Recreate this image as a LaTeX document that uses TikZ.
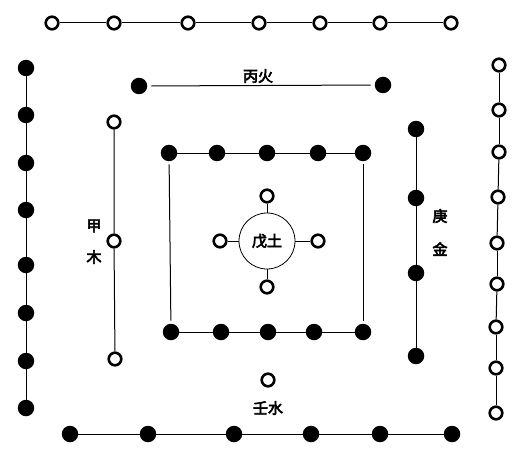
\documentclass[tikz,border=0pt]{standalone}
\usepackage{fontspec}
\newfontfamily\cjk[FakeBold=4]{Noto Sans CJK SC}
\tikzset{
  odot/.style={circle,draw,line width=2.6pt,minimum size=12.6pt,inner sep=0pt,fill=white},
  bdot/.style={circle,fill,minimum size=16.5pt,inner sep=0pt},
  lab/.style={font=\cjk\fontsize{15pt}{15pt}\selectfont,inner sep=1pt},
  ln/.style={line width=1pt}
}
\begin{document}
\begin{tikzpicture}[x=1pt,y=-1pt]
\useasboundingbox (0,0) rectangle (529,473);
% top row: 7 open
\foreach \x [count=\i] in {52,114,188,259,320,380,451} \node[odot] (t\i) at (\x,23) {};
\foreach \i/\j in {1/2,2/3,3/4,4/5,5/6,6/7} \draw[ln] (t\i)--(t\j);
% fire: 2 black
\node[bdot] (f1) at (139,86) {};
\node[bdot] (f2) at (383,85) {};
\draw[ln,shorten <=4pt,shorten >=4pt] (f1)--(f2);
\node[lab] (fl) at (258,76) {丙火};
% left: 8 black
\foreach \y [count=\i] in {68,115,163,210,265,313,361,408} \node[bdot] (l\i) at (26,\y) {};
\foreach \i/\j in {1/2,2/3,3/4,4/5,5/6,6/7,7/8} \draw[ln] (l\i)--(l\j);
% right: 9 open
\foreach \y/\x [count=\i] in {65/499,110/499,152/499,197/498,243/497,284/497,327/496,368/496,413/496} \node[odot] (r\i) at (\x,\y) {};
\foreach \i/\j in {1/2,2/3,3/4,4/5,5/6,6/7,7/8,8/9} \draw[ln] (r\i)--(r\j);
% bottom: 6 black
\foreach \x [count=\i] in {70,148,234,311,380,452} \node[bdot] (b\i) at (\x,434) {};
\foreach \i/\j in {1/2,2/3,3/4,4/5,5/6} \draw[ln] (b\i)--(b\j);
% wood: 3 open
\node[odot] (w1) at (114,122) {};
\node[odot] (w2) at (114,241) {};
\node[odot] (w3) at (115,359) {};
\draw[ln] (w1)--(w2)--(w3);
\node[lab] (wa) at (94,226) {甲};
\node[lab] (wb) at (94,257) {木};
% metal: 4 black
\node[bdot] (m1) at (416,129) {};
\node[bdot] (m2) at (416,198) {};
\node[bdot] (m3) at (416,273) {};
\node[bdot] (m4) at (416,356) {};
\draw[ln] (m1)--(m2)--(m3)--(m4);
\node[lab] (ma) at (440,216) {庚};
\node[lab] (mb) at (440,249) {金};
% inner square: 10 black
\foreach \x [count=\i] in {169,217,267,318,363} \node[bdot] (s\i) at (\x,153) {};
\foreach \x [count=\i] in {171,221,268,314,363} \node[bdot] (u\i) at (\x,332) {};
\foreach \i/\j in {1/2,2/3,3/4,4/5} {\draw[ln] (s\i)--(s\j); \draw[ln] (u\i)--(u\j);}
\draw[ln,shorten <=3pt,shorten >=3pt] (s1)--(u1);
\draw[ln,shorten <=3pt,shorten >=3pt] (s5)--(u5);
% center
\node[circle,draw,line width=0.8pt,minimum size=56pt,inner sep=0pt,font=\cjk\fontsize{15pt}{15pt}\selectfont] (c) at (267,241) {戊土};
\node[odot] (cw) at (220,241) {};
\node[odot] (ce) at (318,241) {};
\node[odot] (cn) at (267,196) {};
\node[odot] (cs) at (267,287) {};
\draw[ln] (cw)--(c) (ce)--(c) (cn)--(c) (cs)--(c);
% water
\node[odot] (wt) at (268,380) {};
\node[lab] (wtl) at (268,408) {壬水};
\end{tikzpicture}
\end{document}
